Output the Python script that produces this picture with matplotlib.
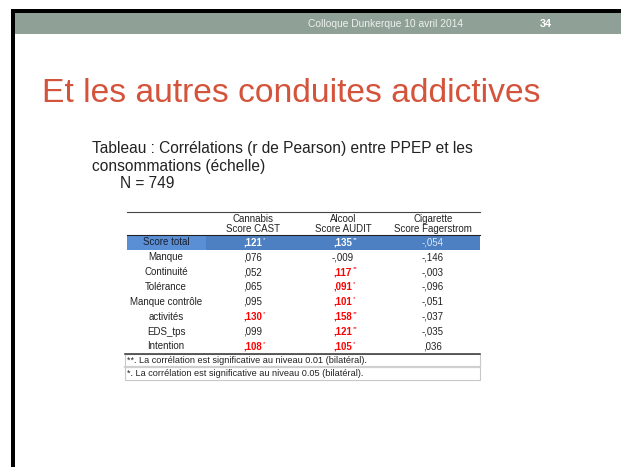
import matplotlib
matplotlib.use("Agg")
import matplotlib.pyplot as plt
from matplotlib.patches import Rectangle

# ---- data ----
header_text = "Colloque Dunkerque 10 avril 2014"
slide_number = "34"
title = "Et les autres conduites addictives"
subtitle_lines = ["Tableau : Corrélations (r de Pearson) entre PPEP et les",
                  "consommations (échelle)"]
n_text = "N = 749"
col_headers = [("Cannabis", "Score CAST"), ("Alcool", "Score AUDIT"), ("Cigarette", "Score Fagerstrom")]
row_labels = ["Score total", "Manque", "Continuité", "Tolérance", "Manque contrôle",
              "activités", "EDS_tps", "Intention"]
cannabis = [0.121, 0.076, 0.052, 0.065, 0.095, 0.130, 0.099, 0.108]
cannabis_sig = ["*", "", "", "", "", "*", "", "*"]
alcool = [0.135, -0.009, 0.117, 0.091, 0.101, 0.158, 0.121, 0.105]
alcool_sig = ["**", "", "**", "*", "*", "**", "**", "*"]
cigarette = [-0.054, -0.146, -0.003, -0.096, -0.051, -0.037, -0.035, 0.036]
cigarette_sig = ["", "", "", "", "", "", "", ""]
footnotes = ["**. La corrélation est significative au niveau 0.01 (bilatéral).",
             "*. La corrélation est significative au niveau 0.05 (bilatéral)."]


def fmt(v):
    s = f"{v:.3f}".replace("0.", ",", 1)
    return s


W, H = 621, 467
fig = plt.figure(figsize=(W / 100, H / 100), dpi=100)
ax = fig.add_axes([0, 0, 1, 1])
ax.set_xlim(0, W)
ax.set_ylim(H, 0)
ax.axis("off")
FONT = "Liberation Sans"

# slide frame
ax.add_patch(Rectangle((11, 9), W - 11, 3.5, color="black", lw=0))
ax.add_patch(Rectangle((11, 9), 3.5, H - 9, color="black", lw=0))
ax.add_patch(Rectangle((14.5, 12.5), W - 14.5, 21.5, color="#8fa096", lw=0))
ax.text(385, 24, header_text, fontsize=7.4, color="#eef2ee", ha="center", va="center", family=FONT)
ax.text(546, 24, slide_number, fontsize=7.8, color="white", ha="center", va="center",
        family=FONT, fontweight="bold")

# title
ax.text(42, 94, title, fontsize=24.2, color="#d4533b", ha="left", va="center", family=FONT)

# subtitle
SFS = 11.2
ax.text(92, 148, subtitle_lines[0], fontsize=SFS, color="#222222", ha="left", va="center", family=FONT)
ax.text(92, 166, subtitle_lines[1], fontsize=SFS, color="#222222", ha="left", va="center", family=FONT)
ax.text(120, 184, n_text, fontsize=SFS, color="#222222", ha="left", va="center", family=FONT)

# table geometry
tbl_left, tbl_right = 127, 480
label_right = 206
label_x = 166
col_x = [253, 343, 433]
top_line = 212
hdr_bottom = 235
row_h = 14.85
first_row_top = hdr_bottom

TFS = 7.0
# header
ax.plot([tbl_left, tbl_right], [top_line, top_line], color="#444444", lw=0.8)
for (l1, l2), x in zip(col_headers, col_x):
    ax.text(x, 219, l1, fontsize=TFS, ha="center", va="center", family=FONT, color="#222222")
    ax.text(x, 229.5, l2, fontsize=TFS, ha="center", va="center", family=FONT, color="#222222")

# highlighted first row
ax.add_patch(Rectangle((tbl_left, first_row_top), label_right - tbl_left, row_h,
                       color="#5b8fd5", lw=0))
ax.add_patch(Rectangle((label_right, first_row_top), tbl_right - label_right, row_h,
                       color="#4d80c2", lw=0))
ax.plot([tbl_left, tbl_right], [hdr_bottom, hdr_bottom], color="#222222", lw=0.8)

fig.canvas.draw()
renderer = fig.canvas.get_renderer()


def put_value(x, y, val, sig, first):
    s = fmt(val)
    if first:
        color = "white"
        weight = "bold" if sig else "normal"
        if not sig:
            color = "#dde7f5"
    else:
        color = "#ff0000" if sig else "#222222"
        weight = "bold" if sig else "normal"
    t = ax.text(x, y, s, fontsize=TFS, ha="center", va="center", family=FONT,
                color=color, fontweight=weight)
    if sig:
        bb = t.get_window_extent(renderer=renderer)
        xr = ax.transData.inverted().transform((bb.x1, bb.y1))[0]
        ax.text(xr + 0.3, y - 3.3, sig, fontsize=4.3, ha="left", va="center", family=FONT,
                color=color, fontweight="normal")


for i, lab in enumerate(row_labels):
    yc = first_row_top + row_h * (i + 0.5)
    first = i == 0
    ax.text(label_x, yc, lab, fontsize=TFS, ha="center", va="center", family=FONT,
            color="#1a2030" if first else "#222222")
    put_value(col_x[0], yc, cannabis[i], cannabis_sig[i], first)
    put_value(col_x[1], yc, alcool[i], alcool_sig[i], first)
    put_value(col_x[2], yc, cigarette[i], cigarette_sig[i], first)

# footnotes
fn_top = first_row_top + row_h * len(row_labels)
fn_h = 13
ax.add_patch(Rectangle((125, fn_top), tbl_right - 125, 2 * fn_h, fill=False,
                       edgecolor="#c8c8c8", lw=0.8))
ax.plot([125, tbl_right], [fn_top + fn_h, fn_top + fn_h], color="#d0d0d0", lw=1.6)
ax.plot([125, tbl_right], [fn_top, fn_top], color="#333333", lw=1.1)
for k, fn in enumerate(footnotes):
    ax.text(127, fn_top + fn_h * (k + 0.5), fn, fontsize=6.6, ha="left", va="center",
            family=FONT, color="#222222")

fig.savefig("out.png", dpi=100, facecolor="white")
